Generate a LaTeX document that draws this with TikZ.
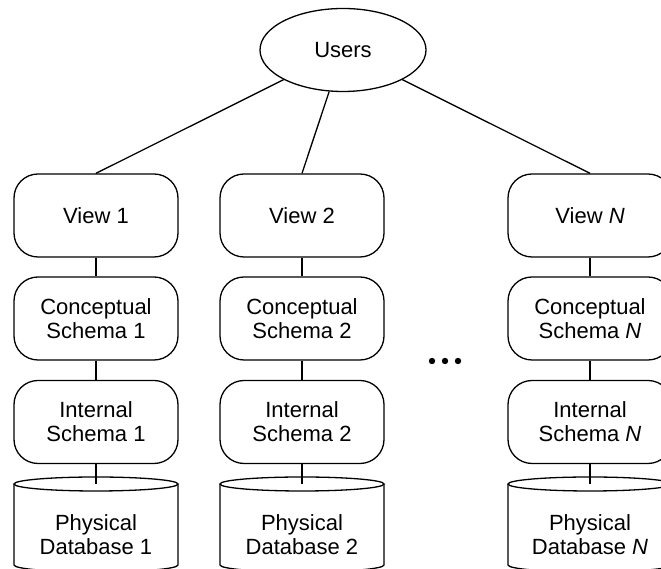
\documentclass[tikz,border=0pt]{standalone}
\usepackage{fontspec}
\setmainfont{Liberation Sans}
\usetikzlibrary{shapes.geometric}
\begin{document}
\begin{tikzpicture}[x=1pt,y=1pt,line width=1.3pt,
    txt/.style={align=center,font=\fontsize{22}{24}\selectfont},
    box/.style={txt,draw,rounded corners=24pt,minimum width=164pt,minimum height=83pt}]
  \useasboundingbox (0,0) rectangle (661,569);
  \clip (0,0) rectangle (661,569);
  \node[txt,draw,ellipse,inner sep=0pt,minimum width=166pt,minimum height=83pt] (users) at (343,519) {Users};
  % one column per view
  \foreach \x/\n/\k in {96/1/1,302/2/2,590/\textit{N}/N} {
    \node[box] (view\k) at (\x,353.5) {View \n};
    \node[box] (concept\k) at (\x,250.5) {Conceptual\\Schema \n};
    \node[box] (internal\k) at (\x,147) {Internal\\Schema \n};
    \coordinate (top\k) at (\x,85);
    \draw (\x-82,85) -- (\x-82,4) arc[start angle=180,end angle=360,x radius=82,y radius=7] -- (\x+82,85);
    \draw (top\k) ellipse[x radius=82,y radius=7];
    \node[txt] (db\k) at (\x,34) {Physical\\Database \n};
    \draw (users) -- (view\k.north);
    \draw (view\k) -- (concept\k);
    \draw (concept\k) -- (internal\k);
    \draw (internal\k) -- (top\k);
  }
  % dots
  \foreach \d in {432,445,458}
    \fill (\d,208) circle (3.2);
\end{tikzpicture}
\end{document}
